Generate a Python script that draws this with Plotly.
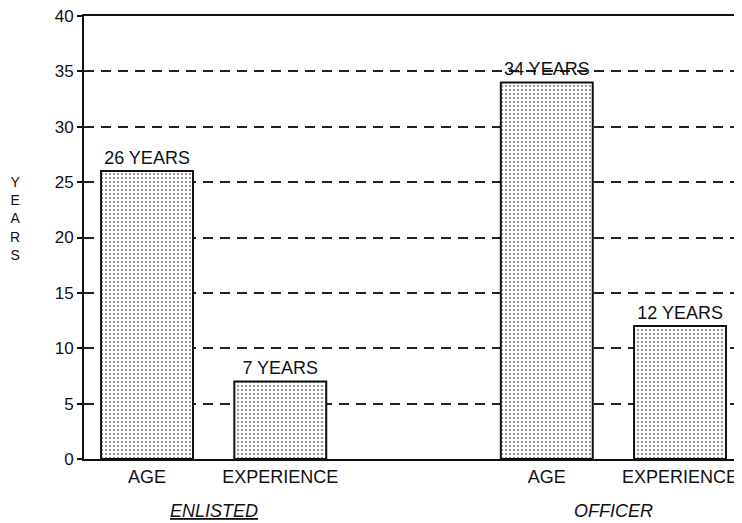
import plotly.graph_objects as go

groups = ["ENLISTED", "OFFICER"]
measures = ["AGE", "EXPERIENCE"]
values = {"ENLISTED": [26, 7], "OFFICER": [34, 12]}
y_ticks = [0, 5, 10, 15, 20, 25, 30, 35, 40]

FONT = "Liberation Sans, Arial, Helvetica, sans-serif"
INK = "#111"

xs, ys, ticktext, texts = [], [], [], []
group_centers = []
for gi, g in enumerate(groups):
    pos = []
    for mi, m in enumerate(measures):
        p = gi * 3 + mi
        pos.append(p)
        xs.append(p)
        ys.append(values[g][mi])
        ticktext.append(m)
        texts.append(f"{values[g][mi]} YEARS")
    group_centers.append(sum(pos) / len(pos))

fig = go.Figure()
fig.add_trace(go.Bar(
    x=xs, y=ys, width=0.69,
    text=texts, textposition="outside", cliponaxis=False,
    textfont=dict(family=FONT, size=18, color=INK),
    marker=dict(
        color="white",
        line=dict(color=INK, width=2),
        pattern=dict(shape=".", fgcolor="#000", bgcolor="white", size=4, solidity=0.22),
    ),
    showlegend=False,
))

for c, g in zip(group_centers, groups):
    label = f"<i><u>{g}</u></i>" if g == "ENLISTED" else f"<i>{g}</i>"
    fig.add_annotation(x=c, xref="x", y=-0.117, yref="paper", text=label,
                       showarrow=False, yanchor="middle",
                       font=dict(family=FONT, size=18, color=INK))

fig.add_annotation(x=-0.105, xref="paper", xanchor="center", y=0.544, yref="paper",
                   text="<br>".join(list("YEARS")), showarrow=False,
                   font=dict(family=FONT, size=14, color=INK))

# page body has an 8px margin; compensate so the figure fills the 742x523 window
fig.update_layout(
    width=734, height=515,
    margin=dict(l=76, r=0, t=8, b=64),
    paper_bgcolor="white", plot_bgcolor="white",
    font=dict(family=FONT, size=18, color=INK),
    xaxis=dict(
        range=[-0.473, 4.465], tickvals=xs, ticktext=ticktext,
        showline=True, linecolor=INK, linewidth=2, mirror=True,
        showgrid=False, zeroline=False, ticks="",
        tickfont=dict(family=FONT, size=18, color=INK),
    ),
    yaxis=dict(
        range=[0, 40], tickvals=y_ticks, ticklabeloverflow="allow",
        showline=True, linecolor=INK, linewidth=2,
        showgrid=True, gridcolor="#222", gridwidth=1.5, griddash="10px,7px",
        zeroline=False, ticks="outside", ticklen=5, tickwidth=2, tickcolor=INK,
        tickfont=dict(family=FONT, size=17, color=INK),
    ),
)

fig.write_html("out.html")
